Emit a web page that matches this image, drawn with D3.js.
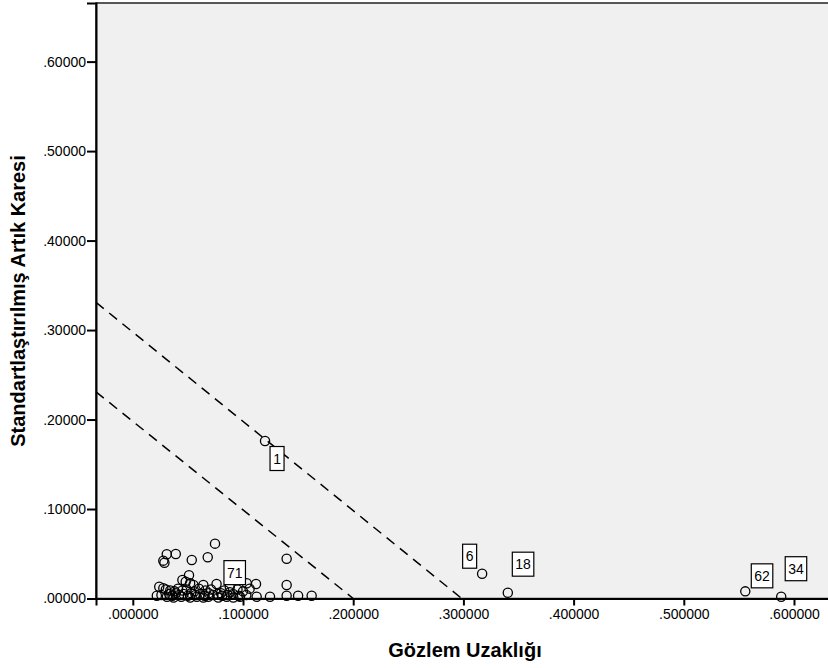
<!DOCTYPE html>
<html>
<head>
<meta charset="utf-8">
<script src="https://cdn.jsdelivr.net/npm/d3@7"></script>
<style>
  html, body { margin: 0; padding: 0; background: #fff; }
  svg { display: block; font-family: "Liberation Sans", Arial, sans-serif; }
</style>
</head>
<body>
<svg id="chart" width="828" height="668"></svg>
<script>
// Gözlem uzaklığı (x) ve standartlaştırılmış artık karesi (y)
const distance = [
  0.0746, 0.0308, 0.0390, 0.0287, 0.0277, 0.0535, 0.0680, 0.1396, 0.1396, 0.0510,
  0.0450, 0.0480, 0.0520, 0.0550, 0.0640, 0.0760, 0.0240, 0.0277, 0.1118, 0.1034,
  0.0880,
  0.0300, 0.0340, 0.0380, 0.0410, 0.0450, 0.0490, 0.0560, 0.0600, 0.0660, 0.0710,
  0.0830, 0.0880, 0.0950, 0.1000, 0.1060,
  0.0260, 0.0330, 0.0360, 0.0390, 0.0420, 0.0460, 0.0500, 0.0530, 0.0570, 0.0610,
  0.0650, 0.0690, 0.0730, 0.0770, 0.0810, 0.0860, 0.0910, 0.0960, 0.1030,
  0.0218, 0.0310, 0.0370, 0.0440, 0.0520, 0.0580, 0.0640, 0.0685, 0.0776, 0.0852,
  0.0912, 0.0973, 0.1124, 0.1245, 0.1396, 0.1500, 0.1623
];
const residual = [
  0.0613, 0.0494, 0.0498, 0.0400, 0.0423, 0.0431, 0.0461, 0.0445, 0.0151, 0.0260,
  0.0207, 0.0188, 0.0170, 0.0151, 0.0151, 0.0162, 0.0132, 0.0114, 0.0162, 0.0170,
  0.0130,
  0.0100, 0.0090, 0.0080, 0.0110, 0.0090, 0.0100, 0.0080, 0.0110, 0.0090, 0.0100,
  0.0090, 0.0070, 0.0100, 0.0080, 0.0110,
  0.0040, 0.0050, 0.0030, 0.0060, 0.0040, 0.0050, 0.0030, 0.0060, 0.0040, 0.0050,
  0.0030, 0.0060, 0.0040, 0.0050, 0.0030, 0.0040, 0.0050, 0.0030, 0.0040,
  0.0030, 0.0020, 0.0010, 0.0020, 0.0010, 0.0020, 0.0010, 0.0020, 0.0010, 0.0020,
  0.0010, 0.0020, 0.0020, 0.0020, 0.0030, 0.0030, 0.0030
];

// Etiketli gözlemler
const labelIds      = ["1", "6", "18", "62", "34", "71"];
const labelDistance = [0.1200, 0.3170, 0.3403, 0.5558, 0.5884, 0.0800];
const labelResidual = [0.1760, 0.0277, 0.0065, 0.0080, 0.0020, 0.0060];

// Referans çizgileri (x + y = sabit)
const refLineStart = [[-0.0334, 0.331], [-0.0334, 0.231]];
const refLineEnd   = [[0.2985, 0], [0.2000, 0]];

const yTicks = [0, 0.1, 0.2, 0.3, 0.4, 0.5, 0.6];
const xTicks = [0, 0.1, 0.2, 0.3, 0.4, 0.5, 0.6];

const xTitle = "Gözlem Uzaklığı";
const yTitle = "Standartlaştırılmış Artık Karesi";

// ----- Çizim -----
const svg = d3.select("#chart");
const plot = { left: 96, top: 3, right: 834, bottom: 598.5 };

const x = d3.scaleLinear().domain([-0.0334, 0.6363]).range([plot.left, plot.right]);
const y = d3.scaleLinear().domain([0, 0.6655]).range([plot.bottom, plot.top]);

const trimZero = s => s.replace(/^0/, "");

// Arka plan
svg.append("rect")
  .attr("x", plot.left).attr("y", plot.top)
  .attr("width", plot.right - plot.left).attr("height", plot.bottom - plot.top)
  .attr("fill", "#f0f0f0")
  .attr("stroke", "#222").attr("stroke-width", 1.5);

// Referans çizgileri
refLineStart.forEach((s, i) => {
  const e = refLineEnd[i];
  svg.append("line")
    .attr("x1", x(s[0])).attr("y1", y(s[1]))
    .attr("x2", x(e[0])).attr("y2", y(e[1]))
    .attr("stroke", "#000").attr("stroke-width", 1.5)
    .attr("stroke-dasharray", "10,7");
});

// Noktalar
const points = distance.map((d, i) => ({ x: d, y: residual[i] }));
const labeled = labelIds.map((id, i) => ({ id, x: labelDistance[i], y: labelResidual[i] }));

svg.append("g")
  .selectAll("circle")
  .data(points.concat(labeled))
  .join("circle")
    .attr("cx", d => x(d.x))
    .attr("cy", d => y(d.y))
    .attr("r", 4.6)
    .attr("fill", "none")
    .attr("stroke", "#000")
    .attr("stroke-width", 1.3);

// Etiket kutuları (noktaya göre yerleşim)
const labelOffset = {
  "1":  [5, 5.5],
  "6":  [-19.5, -29.5],
  "18": [4.5, -40.5],
  "62": [6, -27.5],
  "34": [4, -40],
  "71": [3, -32.5]
};
const boxes = svg.append("g").selectAll("g")
  .data(labeled)
  .join("g")
    .attr("transform", d => {
      const o = labelOffset[d.id];
      return `translate(${x(d.x) + o[0]},${y(d.y) + o[1]})`;
    });
boxes.append("rect")
  .attr("width", d => d.id.length > 1 ? 21.5 : 14)
  .attr("height", 24)
  .attr("fill", "#fff")
  .attr("stroke", "#000")
  .attr("stroke-width", 1.2);
boxes.append("text")
  .attr("x", d => (d.id.length > 1 ? 21.5 : 14) / 2)
  .attr("y", 17)
  .attr("text-anchor", "middle")
  .attr("font-size", 14)
  .text(d => d.id);

// Eksenler
const xAxis = svg.append("g")
  .attr("transform", `translate(0,${plot.bottom})`)
  .call(d3.axisBottom(x).tickValues(xTicks).tickSize(7).tickPadding(4)
    .tickFormat(d => trimZero(d3.format(".6f")(d))));
const yAxis = svg.append("g")
  .attr("transform", `translate(${plot.left},0)`)
  .call(d3.axisLeft(y).tickValues(yTicks).tickSize(9).tickPadding(1)
    .tickFormat(d => trimZero(d3.format(".5f")(d))));

[xAxis, yAxis].forEach(g => {
  g.select(".domain").attr("stroke", "#000").attr("stroke-width", 2);
  g.selectAll(".tick line").attr("stroke", "#000").attr("stroke-width", 2);
  g.selectAll(".tick text")
    .attr("fill", "#000")
    .attr("font-size", 14)
    .attr("font-family", "'Liberation Sans', Arial, sans-serif");
});

// Eksen başlıkları
svg.append("text")
  .attr("x", 465).attr("y", 657)
  .attr("text-anchor", "middle")
  .attr("font-size", 20).attr("font-weight", "bold")
  .text(xTitle);
svg.append("text")
  .attr("transform", "translate(25,301) rotate(-90)")
  .attr("text-anchor", "middle")
  .attr("font-size", 20).attr("font-weight", "bold")
  .text(yTitle);
</script>
</body>
</html>
